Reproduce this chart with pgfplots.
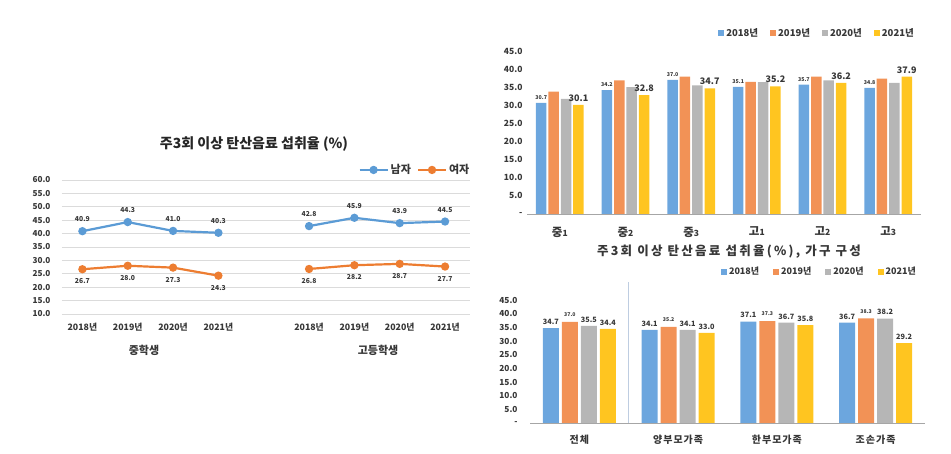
\documentclass[border=0pt]{standalone}
\usepackage{pgfplots}
\pgfplotsset{compat=1.18}
\usepackage{fontspec}
\setmainfont{Noto Sans CJK KR}
\definecolor{lineblue}{RGB}{91,155,213}
\definecolor{lineorange}{RGB}{237,125,49}
\definecolor{barblue}{RGB}{108,166,222}
\definecolor{barorange}{RGB}{242,146,86}
\definecolor{bargray}{RGB}{182,182,182}
\definecolor{baryellow}{RGB}{255,197,32}
\definecolor{txtgray}{RGB}{55,55,55}
\definecolor{sepline}{RGB}{190,205,225}
\pgfkeys{/pgf/number format/assume math mode=true}
\pgfplotsset{
  valfmt/.style={nodes near coords={\pgfmathprintnumber[fixed,fixed zerofill,precision=1]{\pgfplotspointmeta}}},
  sqlegend/.style={legend image code/.code={\fill[##1,draw=none] (0pt,-3pt) rectangle (6pt,3pt);}},
}
\begin{document}
\begin{tikzpicture}
\useasboundingbox (0pt,0pt) rectangle (951pt,454pt);
% ---------------- left line chart ----------------
\node[font=\bfseries\fontsize{14}{15}\selectfont, text=black!85] at (254pt,310pt) {주3회 이상 탄산음료 섭취율 (\%)};
\begin{axis}[
  at={(62pt,140pt)}, anchor=south west, scale only axis,
  width=408pt, height=134pt,
  xmin=-0.45, xmax=8.55, ymin=10, ymax=60,
  axis line style={draw=none}, tick style={draw=none},
  ytick={10,15,...,60},
  yticklabels={10.0,15.0,20.0,25.0,30.0,35.0,40.0,45.0,50.0,55.0,60.0},
  xtick={0,1,2,3,5,6,7,8},
  xticklabels={2018년,2019년,2020년,2021년,2018년,2019년,2020년,2021년},
  ymajorgrids, grid style={draw=black!14, line width=0.7pt},
  yticklabel style={font=\bfseries\fontsize{8.2}{9}\selectfont, text=txtgray, xshift=-8pt},
  xticklabel style={font=\bfseries\fontsize{8.8}{9}\selectfont, text=txtgray, yshift=-6pt},
  clip=false,
  legend style={at={(0.865,1.075)}, anchor=center, draw=none, fill=none,
    font=\bfseries\fontsize{11}{12}\selectfont, text=txtgray,
    /tikz/every even column/.append style={column sep=4pt}},
  legend columns=2,
  legend image code/.code={\draw[mark repeat=2,mark phase=2,#1] plot coordinates {(0pt,0pt)(14pt,0pt)(28pt,0pt)};},
  mblue/.style={lineblue, line width=2.2pt, mark=*, mark size=3pt, valfmt,
    every node near coord/.append style={font=\bfseries\fontsize{6.8}{7}\selectfont, text=txtgray, anchor=south, yshift=5pt}},
  forange/.style={lineorange, line width=2.2pt, mark=*, mark size=3pt, valfmt,
    every node near coord/.append style={font=\bfseries\fontsize{6.8}{7}\selectfont, text=txtgray, anchor=north, yshift=-5pt}},
]
\addplot[mblue] coordinates {(0,40.9)(1,44.3)(2,41.0)(3,40.3)};
\addlegendentry{남자}
\addplot[forange] coordinates {(0,26.7)(1,28.0)(2,27.3)(3,24.3)};
\addlegendentry{여자}
\addplot[mblue, forget plot] coordinates {(5,42.8)(6,45.9)(7,43.9)(8,44.5)};
\addplot[forange, forget plot] coordinates {(5,26.8)(6,28.2)(7,28.7)(8,27.7)};
\end{axis}
\node[font=\bfseries\fontsize{11}{12}\selectfont, text=txtgray] at (144pt,104pt) {중학생};
\node[font=\bfseries\fontsize{11}{12}\selectfont, text=txtgray] at (378pt,104pt) {고등학생};
% ---------------- top right bar chart ----------------
\begin{axis}[
  at={(527pt,240pt)}, anchor=south west, scale only axis,
  width=394pt, height=163pt,
  ybar=1.9pt, bar width=10.5pt,
  xmin=-0.5, xmax=5.5, ymin=0, ymax=45,
  axis line style={draw=none}, tick style={draw=none},
  xtick={0,1,2,3,4,5},
  xticklabels={중{\fontsize{8.5}{8}\selectfont 1},중{\fontsize{8.5}{8}\selectfont 2},중{\fontsize{8.5}{8}\selectfont 3},고{\fontsize{8.5}{8}\selectfont 1},고{\fontsize{8.5}{8}\selectfont 2},고{\fontsize{8.5}{8}\selectfont 3}},
  ytick={0,5,...,45},
  yticklabels={-,5.0,10.0,15.0,20.0,25.0,30.0,35.0,40.0,45.0},
  yticklabel style={font=\bfseries\fontsize{8.5}{9}\selectfont, text=txtgray, xshift=-1pt},
  xticklabel style={font=\bfseries\fontsize{11.5}{12}\selectfont, text=txtgray, yshift=-5pt},
  clip=false, sqlegend,
  legend style={at={(0.995,1.11)}, anchor=east, draw=none, fill=none,
    font=\bfseries\fontsize{9.5}{10}\selectfont, text=txtgray,
    /tikz/every even column/.append style={column sep=10pt}},
  legend columns=4,
]
\draw[black!35, line width=0.8pt] (axis cs:-0.5,0) -- (axis cs:5.5,0);
\addplot[fill=barblue, draw=none, valfmt,
  every node near coord/.append style={font=\bfseries\fontsize{5.3}{6}\selectfont, text=txtgray}]
  coordinates {(0,30.7)(1,34.2)(2,37.0)(3,35.1)(4,35.7)(5,34.8)};
\addlegendentry{2018년}
\addplot[fill=barorange, draw=none]
  coordinates {(0,33.8)(1,36.9)(2,37.9)(3,36.5)(4,37.9)(5,37.4)};
\addlegendentry{2019년}
\addplot[fill=bargray, draw=none]
  coordinates {(0,31.8)(1,35.0)(2,35.5)(3,36.4)(4,36.9)(5,36.2)};
\addlegendentry{2020년}
\addplot[fill=baryellow, draw=none, valfmt,
  every node near coord/.append style={font=\bfseries\fontsize{9}{9}\selectfont, text=txtgray}]
  coordinates {(0,30.1)(1,32.8)(2,34.7)(3,35.2)(4,36.2)(5,37.9)};
\addlegendentry{2021년}
\end{axis}
% ---------------- middle title ----------------
\node[font=\bfseries\fontsize{12.5}{13}\selectfont\addfontfeature{LetterSpace=18}, text=txtgray] at (729pt,202pt) {주3회 이상 탄산음료 섭취율(\%), 가구 구성};
% ---------------- bottom right bar chart ----------------
\begin{axis}[
  at={(530pt,31pt)}, anchor=south west, scale only axis,
  width=395pt, height=123pt,
  ybar=3pt, bar width=16pt,
  xmin=-0.5, xmax=3.5, ymin=0, ymax=45,
  axis line style={draw=none}, tick style={draw=none},
  xtick={0,1,2,3},
  xticklabels={전체,양부모가족,한부모가족,조손가족},
  ytick={0,5,...,45},
  yticklabels={-,5.0,10.0,15.0,20.0,25.0,30.0,35.0,40.0,45.0},
  yticklabel style={font=\bfseries\fontsize{8.3}{9}\selectfont, text=txtgray, xshift=-9pt},
  xticklabel style={font=\bfseries\fontsize{10}{10}\selectfont\addfontfeature{LetterSpace=10}, text=txtgray, yshift=-4pt},
  clip=false, sqlegend,
  legend style={at={(0.99,1.23)}, anchor=east, draw=none, fill=none,
    font=\bfseries\fontsize{9}{9}\selectfont, text=txtgray,
    /tikz/every even column/.append style={column sep=12pt}},
  legend columns=4,
  lab/.style={valfmt, every node near coord/.append style={font=\bfseries\fontsize{7.3}{8}\selectfont, text=txtgray}},
]
\draw[black!35, line width=0.8pt] (axis cs:-0.5,0) -- (axis cs:3.5,0);
\draw[sepline, line width=0.8pt] (axis cs:0.5,0) -- (axis cs:0.5,51.5);
\addplot[fill=barblue, draw=none, lab]
  coordinates {(0,34.7)(1,34.1)(2,37.1)(3,36.7)};
\addlegendentry{2018년}
\addplot[fill=barorange, draw=none, valfmt,
  every node near coord/.append style={font=\bfseries\fontsize{5.2}{6}\selectfont, text=txtgray, yshift=1.5pt}]
  coordinates {(0,37.0)(1,35.2)(2,37.3)(3,38.3)};
\addlegendentry{2019년}
\addplot[fill=bargray, draw=none, lab]
  coordinates {(0,35.5)(1,34.1)(2,36.7)(3,38.2)};
\addlegendentry{2020년}
\addplot[fill=baryellow, draw=none, lab]
  coordinates {(0,34.4)(1,33.0)(2,35.8)(3,29.2)};
\addlegendentry{2021년}
\end{axis}
\end{tikzpicture}
\end{document}
